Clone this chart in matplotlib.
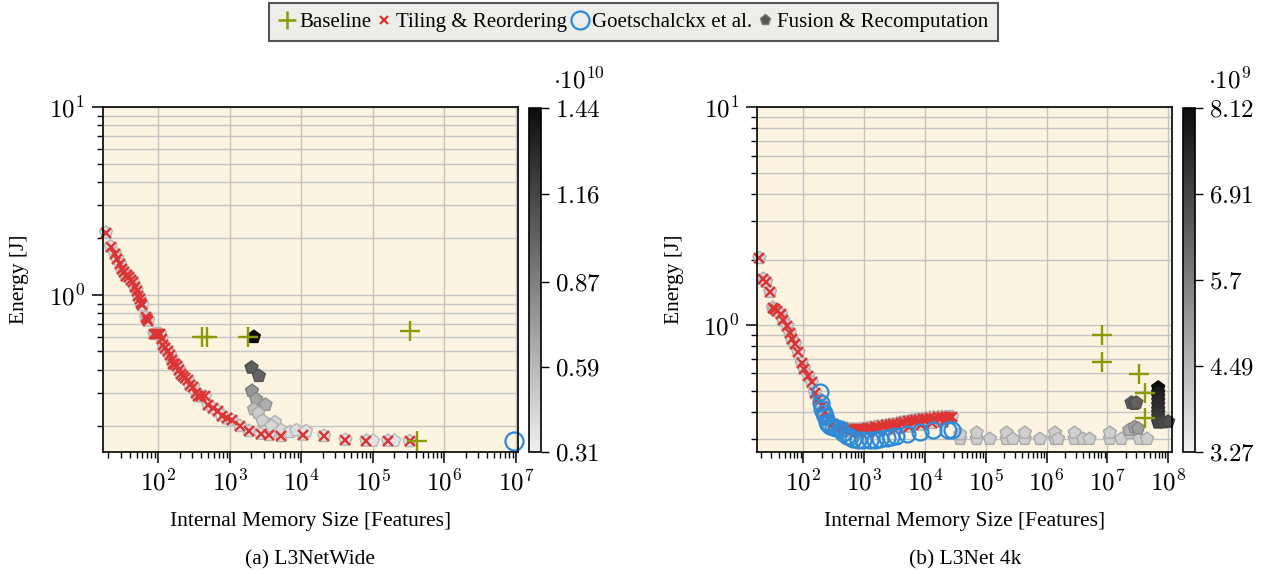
import numpy as np
import matplotlib
matplotlib.use('Agg')
import matplotlib.pyplot as plt
from matplotlib.colors import LinearSegmentedColormap, Normalize
from matplotlib.lines import Line2D
from matplotlib.ticker import LogLocator, NullFormatter, FuncFormatter, FixedLocator, FixedFormatter

plt.rcParams['font.family'] = ['Liberation Serif', 'DejaVu Serif']
plt.rcParams['mathtext.fontset'] = 'cm'
plt.rcParams['font.size'] = 15

# ---------------- (a) L3NetWide ----------------
tiling_l_x = [18.6, 21.6, 24.8, 26.7, 29.2, 30.8, 33, 35, 37, 39.4, 42, 43.9, 47, 49.9, 52.5, 55,
              56.8, 60, 67.3, 70, 72.4, 88, 92, 98, 105.7, 112, 117.5, 124, 135, 145.7, 155, 162,
              172, 184, 195, 205, 220, 236, 260, 277, 309, 340, 363, 400, 449, 499, 575, 680, 768,
              900, 1059, 1384, 1862, 2690, 3548, 5280, 10600, 20800, 41400, 81300, 163000, 327000]
tiling_l_y = [2.15, 1.81, 1.66, 1.56, 1.46, 1.37, 1.32, 1.26, 1.27, 1.24, 1.2, 1.17, 1.1, 1.05, 0.99, 0.95,
              0.91, 0.88, 0.76, 0.74, 0.73, 0.62, 0.62, 0.62, 0.62, 0.58, 0.54, 0.52, 0.5, 0.48, 0.45, 0.43,
              0.43, 0.42, 0.40, 0.38, 0.37, 0.36, 0.35, 0.33, 0.325, 0.30, 0.288, 0.288, 0.288, 0.26, 0.249, 0.24, 0.227,
              0.22, 0.216, 0.2, 0.188, 0.182, 0.179, 0.177, 0.18, 0.177, 0.169, 0.167, 0.167, 0.166]

baseline_l_x = [415, 478, 1825, 3.3e5, 4.1e5]
baseline_l_y = [0.6, 0.6, 0.6, 0.64, 0.166]

goet_l_x = [9.3e6]
goet_l_y = [0.167]

# fusion & recomputation points (value = colorbar quantity, x1e10)
fusion_l_x = [2170, 2015, 2550, 2040, 2340, 3160, 2180, 2500, 2870, 4270, 3840, 5280, 6900, 8550, 11700, 1e5, 2e5]
fusion_l_y = [0.597, 0.41, 0.37, 0.308, 0.278, 0.26, 0.246, 0.235, 0.214, 0.21, 0.2, 0.19, 0.186, 0.19, 0.188, 0.167, 0.167]
fusion_l_v = [1.44, 1.04, 1.0, 0.76, 0.68, 0.64, 0.55, 0.5, 0.47, 0.44, 0.43, 0.41, 0.4, 0.4, 0.39, 0.38, 0.38]
fusion_l_under = 0.40   # light pentagons sitting below the tiling points
cbar_l_ticks = [0.31, 0.59, 0.87, 1.16, 1.44]

# ---------------- (b) L3Net 4k ----------------
tiling_r_x = [19, 22, 24.5, 28.5, 31.5, 34, 36.6, 42.6, 47, 54.7, 60, 64.5, 73, 82.8, 94, 103, 121, 137,
              155, 176, 200, 227, 257, 311, 350, 400, 450, 520, 582, 650, 720, 800, 900, 1000, 1150,
              1300, 1500, 1700, 2000, 2300, 2630, 3000, 3500, 4000, 4600, 5300, 6100, 7000, 8000, 9200,
              10500, 12000, 14000, 16500, 19000, 22000, 25000, 28000,
              600, 800, 1100, 1600, 2400, 3600, 5500, 8500, 13000, 20000]
tiling_r_y = [2.03, 1.63, 1.58, 1.42, 1.2, 1.18, 1.16, 1.12, 1.05, 0.99, 0.92, 0.86, 0.82, 0.75, 0.67, 0.63, 0.585, 0.546,
              0.49, 0.458, 0.426, 0.398, 0.37, 0.35, 0.345, 0.34, 0.337, 0.334, 0.332, 0.331, 0.331, 0.332, 0.333, 0.334, 0.336,
              0.338, 0.34, 0.342, 0.344, 0.346, 0.348, 0.35, 0.353, 0.356, 0.358, 0.361, 0.364, 0.366, 0.368, 0.37,
              0.372, 0.375, 0.376, 0.377, 0.378, 0.378, 0.378, 0.378,
              0.325, 0.323, 0.325, 0.328, 0.332, 0.336, 0.342, 0.348, 0.355, 0.36]

goet_r_x = [188, 192, 200, 215, 227, 245, 257, 280, 311, 350, 400, 450, 514, 580, 660, 800, 960, 1230,
            1500, 1820, 2340, 2800, 3400, 5000, 8200, 13500, 24000, 28000]
goet_r_y = [0.494, 0.44, 0.41, 0.395, 0.384, 0.36, 0.35, 0.345, 0.34, 0.335, 0.333, 0.32, 0.31, 0.305, 0.30, 0.297, 0.295, 0.295,
            0.297, 0.30, 0.302, 0.306, 0.31, 0.316, 0.322, 0.331, 0.331, 0.331]

baseline_r_x = [8.3e6, 8.3e6, 3.34e7, 4.14e7, 4.14e7]
baseline_r_y = [0.90, 0.676, 0.598, 0.486, 0.373]

# fusion & recomputation (value x1e9)
fusion_r_x = [3.8e4, 3.8e4, 7.1e4, 7.1e4, 1.17e5, 2.2e5, 2.2e5, 2.8e5, 4.4e5, 4.4e5, 7.8e5, 1.38e6, 1.38e6, 1.55e6,
              2.9e6, 2.9e6, 4.0e6, 5.1e6, 1.1e7, 1.1e7, 1.7e7, 2.3e7, 3.4e7, 4.5e7,
              2.3e7, 2.8e7, 3.2e7,
              2.5e7, 2.8e7, 3.0e7,
              6.86e7, 6.86e7, 6.86e7, 6.86e7, 6.86e7, 6.86e7, 6.86e7, 6.86e7, 6.86e7, 6.86e7, 8.3e7, 1.0e8]
fusion_r_y = [0.30, 0.315, 0.30, 0.32, 0.30, 0.30, 0.32, 0.30, 0.30, 0.32, 0.30, 0.30, 0.32, 0.30,
              0.30, 0.32, 0.30, 0.30, 0.30, 0.32, 0.30, 0.32, 0.30, 0.30,
              0.33, 0.34, 0.335,
              0.44, 0.435, 0.44,
              0.516, 0.49, 0.47, 0.45, 0.43, 0.41, 0.395, 0.38, 0.365, 0.357, 0.358, 0.36]
fusion_r_v = [4.0, 4.0, 4.0, 4.0, 4.0, 4.0, 4.0, 4.0, 4.0, 4.0, 4.0, 4.0, 4.0, 4.0,
              4.0, 4.0, 4.0, 4.0, 4.0, 4.0, 4.0, 4.0, 4.0, 4.0,
              4.6, 4.9, 5.0,
              6.3, 6.4, 6.3,
              8.12, 7.8, 7.6, 7.5, 7.4, 7.3, 7.2, 7.1, 7.0, 6.9, 6.8, 6.7]
fusion_r_under = 3.85
cbar_r_ticks = [3.27, 4.49, 5.7, 6.91, 8.12]

olive = '#8a9a00'
red = '#dd3333'
blue = '#2e8bd8'
bg = '#fcf4e0'
cmap = LinearSegmentedColormap.from_list('grays', ['#f0f0f0', '#0d0d0d'])

fig = plt.figure(figsize=(12.71, 5.72), dpi=100)


def draw(ax, cax, tx, ty, bx, by, gx, gy, gms, fx, fy, fv, under, ticks, expo, xlim, ylim, xmaj):
    norm = Normalize(ticks[0], ticks[-1])
    ax.set_facecolor(bg)
    ax.set_xscale('log')
    ax.set_yscale('log')
    # light fusion points under the tiling curve
    fc = cmap(norm(np.full(len(tx), under)))
    ec = fc.copy()
    ec[:, :3] *= 0.82
    ax.scatter(tx, ty, marker='p', s=95, c=fc, edgecolors=ec, linewidths=1.0, zorder=2, clip_on=False)
    fc = cmap(norm(np.array(fv)))
    ec = fc.copy()
    ec[:, :3] *= 0.82
    ax.scatter(fx, fy, marker='p', s=95, c=fc, edgecolors=ec, linewidths=1.0, zorder=2, clip_on=False)
    ax.plot(tx, ty, ls='none', marker='x', ms=6.5, mew=1.7, color=red, zorder=3, clip_on=False)
    ax.plot(gx, gy, ls='none', marker='o', ms=gms, mfc='none', mew=1.6, mec=blue, zorder=4, clip_on=False)
    ax.plot(bx, by, ls='none', marker='+', ms=14, mew=1.7, color=olive, zorder=5, clip_on=False)

    ax.set_xlim(*xlim)
    ax.set_ylim(*ylim)
    ax.xaxis.set_major_locator(FixedLocator(xmaj))
    ax.xaxis.set_minor_locator(LogLocator(base=10, subs=np.arange(2, 10), numticks=20))
    ax.yaxis.set_major_locator(FixedLocator([1, 10]))
    ax.yaxis.set_minor_locator(LogLocator(base=10, subs=np.arange(2, 10), numticks=20))
    fmt = FuncFormatter(lambda v, p: r'$10^{%d}$' % round(np.log10(v)))
    ax.xaxis.set_major_formatter(fmt)
    ax.yaxis.set_major_formatter(fmt)
    ax.xaxis.set_minor_formatter(NullFormatter())
    ax.yaxis.set_minor_formatter(NullFormatter())
    ax.tick_params(which='major', direction='out', length=8, width=1.1, labelsize=18, pad=5)
    ax.tick_params(which='minor', direction='out', length=4.5, width=1.0)
    ax.grid(which='major', axis='both', color='#c4c4c4', lw=1.0, zorder=0)
    ax.grid(which='minor', axis='y', color='#c4c4c4', lw=1.0, zorder=0)
    ax.set_axisbelow(True)
    for s in ax.spines.values():
        s.set_linewidth(1.2)
        s.set_zorder(6)
    ax.set_xlabel('Internal Memory Size [Features]', fontsize=15.5, labelpad=12)
    ax.set_ylabel('Energy [J]', fontsize=15.5, labelpad=14)

    sm = plt.cm.ScalarMappable(norm=norm, cmap=cmap)
    cb = fig.colorbar(sm, cax=cax)
    cb.set_ticks(ticks)
    cb.ax.yaxis.set_major_formatter(FixedFormatter(['$%g$' % t for t in ticks]))
    cb.ax.tick_params(direction='out', length=6, width=1.0, labelsize=18, pad=4)
    cb.ax.yaxis.set_minor_locator(FixedLocator([]))
    cb.outline.set_linewidth(1.2)
    cax.text(2.1, 1.08, r'$\cdot 10^{%d}$' % expo, transform=cax.transAxes,
             ha='left', va='center', fontsize=18)


ax1 = fig.add_axes([0.0808, 0.2103, 0.3265, 0.6021])
cax1 = fig.add_axes([0.4164, 0.2094, 0.009, 0.6012])
ax2 = fig.add_axes([0.5958, 0.2103, 0.3260, 0.6021])
cax2 = fig.add_axes([0.931, 0.2094, 0.0092, 0.6012])

draw(ax1, cax1, tiling_l_x, tiling_l_y, baseline_l_x, baseline_l_y, goet_l_x, goet_l_y, 13,
     fusion_l_x, fusion_l_y, fusion_l_v, fusion_l_under, cbar_l_ticks, 10,
     (16.7, 1.06e7), (0.146, 10), [1e2, 1e3, 1e4, 1e5, 1e6, 1e7])
draw(ax2, cax2, tiling_r_x, tiling_r_y, baseline_r_x, baseline_r_y, goet_r_x, goet_r_y, 11.5,
     fusion_r_x, fusion_r_y, fusion_r_v, fusion_r_under, cbar_r_ticks, 9,
     (17.5, 1.14e8), (0.262, 10), [1e2, 1e3, 1e4, 1e5, 1e6, 1e7, 1e8])

fig.text(0.244, 0.021, '(a) L3NetWide', ha='center', va='center', fontsize=15.5)
fig.text(0.759, 0.021, '(b) L3Net 4k', ha='center', va='center', fontsize=15.5)

handles = [
    Line2D([], [], ls='none', marker='+', ms=13, mew=1.8, color=olive),
    Line2D([], [], ls='none', marker='x', ms=6, mew=1.6, color=red),
    Line2D([], [], ls='none', marker='o', ms=13, mfc='none', mew=1.6, mec=blue),
    Line2D([], [], ls='none', marker='p', ms=8, color='#555555', mec='#777777'),
]
labels = ['Baseline', 'Tiling & Reordering', 'Goetschalckx et al.', 'Fusion & Recomputation']
leg = fig.legend(handles, labels, loc='center', bbox_to_anchor=(0.4984, 0.961), ncol=4,
                 frameon=True, fancybox=False, edgecolor='#555555', facecolor='#ededea', framealpha=1,
                 handlelength=0.8, handletextpad=0.2, columnspacing=0.2, borderpad=0.45, fontsize=15)
leg.get_frame().set_linewidth(1.5)

fig.savefig('out.png', dpi=100)
